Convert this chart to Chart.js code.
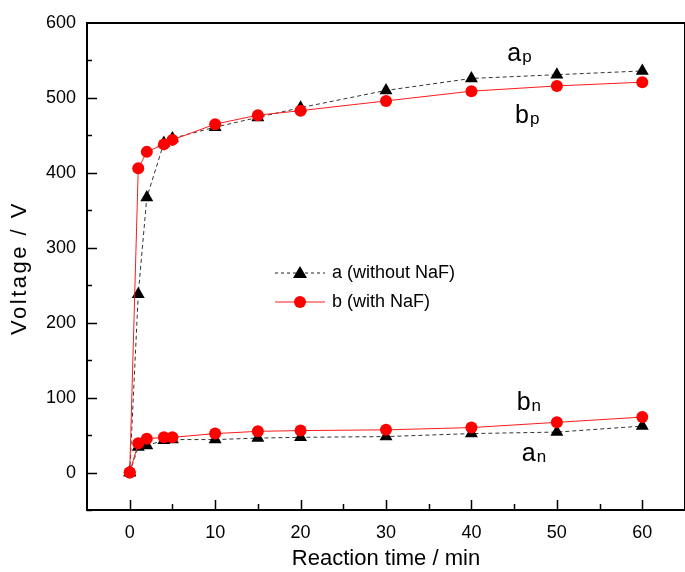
<!DOCTYPE html>
<html>
<head>
<meta charset="utf-8">
<script src="https://cdn.jsdelivr.net/npm/chart.js@4.4.1/dist/chart.umd.min.js"></script>
<style>
  html, body { margin: 0; padding: 0; background: #fff; overflow: hidden; }
</style>
</head>
<body>
<canvas id="chart" width="685" height="572"></canvas>
<script>
// reaction time (min) and the two voltage branches of each run
const times = [0, 1, 2, 4, 5, 10, 15, 20, 30, 40, 50, 60];
const aPositive = [0, 238, 367, 440, 446, 461, 474, 487, 510, 526, 531, 536];
const aNegative = [0, 34, 36, 43, 44, 44, 46, 47, 48, 52, 54, 62];
const bPositive = [0, 406, 428, 438, 444, 465, 477, 483, 496, 509, 516, 521];
const bNegative = [0, 39, 45, 47, 47, 52, 55, 56, 57, 60, 67, 74];

const xTicks = [0, 10, 20, 30, 40, 50, 60];
const yTicks = [0, 100, 200, 300, 400, 500, 600];
const seriesNames = ["a (without NaF)", "b (with NaF)"];

const FONT = "'Liberation Sans', Arial, sans-serif";
const toPoints = (ys) => times.map((t, i) => ({ x: t, y: ys[i] }));

const styleA = {
  borderColor: "#333",
  borderWidth: 1,
  borderDash: [4, 3],
  pointStyle: "triangle",
  pointRadius: 7.5,
  pointBackgroundColor: "#000",
  pointBorderColor: "#000",
  pointBorderWidth: 0,
  order: 2
};
const styleB = {
  borderColor: "#ff1a1a",
  borderWidth: 1,
  pointStyle: "circle",
  pointRadius: 6,
  pointBackgroundColor: "#ff0000",
  pointBorderColor: "#ff0000",
  pointBorderWidth: 0,
  order: 1
};

// frame, inward ticks, y title, legend and branch labels
const decorations = {
  id: "decorations",
  afterDatasetsDraw(chart) {
    const { ctx, chartArea: ca, scales: { x, y } } = chart;
    ctx.save();
    ctx.strokeStyle = "#000";
    ctx.lineWidth = 2;
    ctx.strokeRect(ca.left, ca.top, ca.right - ca.left, ca.bottom - ca.top);

    ctx.lineWidth = 1.5;
    ctx.beginPath();
    for (let v = 0; v <= 60; v += 5) {
      const px = Math.round(x.getPixelForValue(v)) + 0.5;
      const len = v % 10 === 0 ? 10 : 6;
      ctx.moveTo(px, ca.bottom);
      ctx.lineTo(px, ca.bottom - len);
    }
    for (let v = -50; v <= 550; v += 50) {
      const py = Math.round(y.getPixelForValue(v)) + 0.5;
      const len = v % 100 === 0 ? 10 : 5;
      ctx.moveTo(ca.left, py);
      ctx.lineTo(ca.left + len, py);
    }
    ctx.stroke();

    // y axis title (stretched a little like the original)
    ctx.fillStyle = "#000";
    ctx.font = "22px " + FONT;
    ctx.letterSpacing = "2.5px";
    ctx.textAlign = "center";
    ctx.textBaseline = "middle";
    ctx.translate(20, 268);
    ctx.rotate(-Math.PI / 2);
    ctx.fillText("Voltage / V", 0, 0);
    ctx.setTransform(1, 0, 0, 1, 0, 0);
    ctx.letterSpacing = "0px";

    // legend
    const lx = 275, ly = 273, gap = 29;
    ctx.lineWidth = 1;
    ctx.strokeStyle = "#222";
    ctx.setLineDash([3, 3]);
    ctx.beginPath();
    ctx.moveTo(lx, ly); ctx.lineTo(lx + 50, ly);
    ctx.stroke();
    ctx.setLineDash([]);
    ctx.fillStyle = "#000";
    ctx.beginPath();
    ctx.moveTo(lx + 25, ly - 7);
    ctx.lineTo(lx + 32, ly + 5);
    ctx.lineTo(lx + 18, ly + 5);
    ctx.closePath();
    ctx.fill();

    ctx.strokeStyle = "#ff1a1a";
    ctx.beginPath();
    ctx.moveTo(lx, ly + gap); ctx.lineTo(lx + 50, ly + gap);
    ctx.stroke();
    ctx.fillStyle = "#ff0000";
    ctx.beginPath();
    ctx.arc(lx + 25, ly + gap, 6, 0, Math.PI * 2);
    ctx.fill();

    ctx.fillStyle = "#000";
    ctx.font = "18px " + FONT;
    ctx.textAlign = "left";
    ctx.fillText(seriesNames[0], lx + 57, ly);
    ctx.fillText(seriesNames[1], lx + 57, ly + gap);

    // branch labels, placed in data units
    const labels = [
      ["a", "p", 44.2, 549],
      ["b", "p", 45.1, 466],
      ["b", "n", 45.3, 83],
      ["a", "n", 45.9, 16]
    ];
    ctx.textBaseline = "alphabetic";
    labels.forEach(([main, sub, vx, vy]) => {
      const px = x.getPixelForValue(vx);
      const py = y.getPixelForValue(vy);
      ctx.font = "25px " + FONT;
      ctx.fillText(main, px, py);
      const w = ctx.measureText(main).width;
      ctx.font = "17px " + FONT;
      ctx.fillText(sub, px + w + 1, py + 1);
    });
    ctx.restore();
  }
};

new Chart(document.getElementById("chart"), {
  type: "line",
  data: {
    datasets: [
      { label: seriesNames[0], data: toPoints(aPositive), ...styleA },
      { label: seriesNames[0], data: toPoints(aNegative), ...styleA },
      { label: seriesNames[1], data: toPoints(bPositive), ...styleB },
      { label: seriesNames[1], data: toPoints(bNegative), ...styleB }
    ]
  },
  options: {
    responsive: false,
    animation: false,
    layout: { autoPadding: false, padding: { top: 23, right: 0, left: 0, bottom: 0 } },
    plugins: { legend: { display: false }, tooltip: { enabled: false } },
    elements: { line: { tension: 0 } },
    scales: {
      x: {
        type: "linear",
        min: -5,
        max: 65,
        afterBuildTicks: (s) => { s.ticks = xTicks.map((v) => ({ value: v })); },
        afterFit: (s) => { s.height = 62; s.paddingLeft = 0; s.paddingRight = 0; },
        grid: { display: false, drawTicks: false },
        border: { display: false },
        ticks: { color: "#000", font: { size: 18, family: FONT }, padding: 12, maxRotation: 0 },
        title: {
          display: true,
          text: "Reaction time / min",
          color: "#000",
          font: { size: 22, family: FONT },
          padding: { top: 0, bottom: 0 }
        }
      },
      y: {
        min: -50,
        max: 600,
        afterBuildTicks: (s) => { s.ticks = yTicks.map((v) => ({ value: v })); },
        afterFit: (s) => { s.width = 87; },
        grid: { display: false, drawTicks: false },
        border: { display: false },
        ticks: { color: "#000", font: { size: 18, family: FONT }, padding: 11 }
      }
    }
  },
  plugins: [decorations]
});
</script>
</body>
</html>
